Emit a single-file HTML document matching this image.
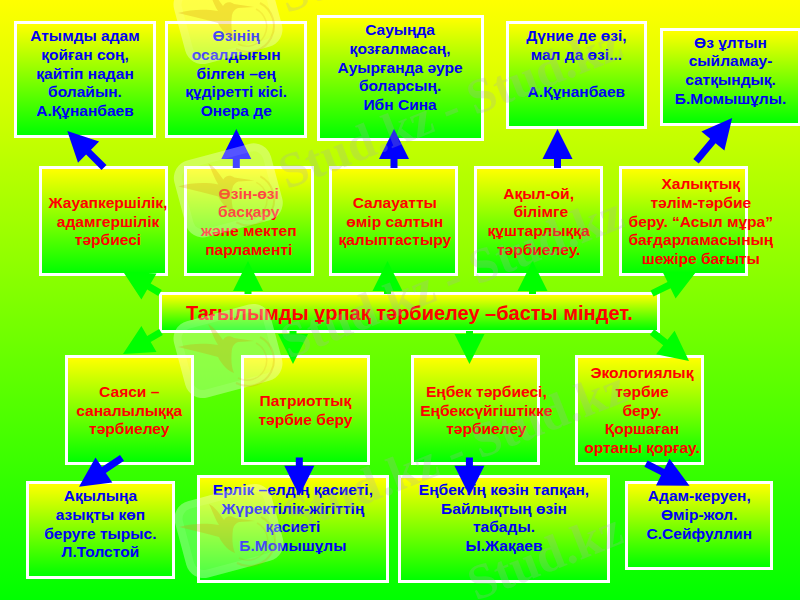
<!DOCTYPE html>
<html><head><meta charset="utf-8"><title>Тағылымды ұрпақ тәрбиелеу</title>
<style>
html,body{margin:0;padding:0}
body{width:800px;height:600px;overflow:hidden;position:relative;background:linear-gradient(to bottom,#ffff00 0%,#00ff00 100%);font-family:"Liberation Sans",sans-serif;font-weight:bold;font-size:15.56px;line-height:18.67px}
.bx{position:absolute;box-sizing:border-box;border:3.3px solid #fff;padding:3.3px 6.4px 1.7px;background:linear-gradient(to bottom,#ffff00 0%,#00ff00 100%);display:flex;align-items:center;justify-content:safe center;text-align:center;white-space:nowrap}
.b{color:#0000f4;align-items:flex-start}
.r{color:#ff0000}
.t{position:relative}
#title{position:absolute;left:158.8px;top:292px;width:501.2px;height:41.3px;box-sizing:border-box;border:3.3px solid #fff;background:linear-gradient(to bottom,#ffff00,#00ff00);font-size:20px;line-height:24px;color:#ff0000;display:flex;align-items:center;justify-content:center;white-space:nowrap}
svg{position:absolute;left:0;top:0}
</style></head><body>
<div class="bx b" id="b0" style="left:14px;top:21px;width:142px;height:117px"><div class="t">Атымды адам<br>қойған соң,<br>қайтіп надан<br>болайын.<br>А.Құнанбаев</div></div>
<div class="bx b" id="b1" style="left:165.2px;top:21px;width:142.1px;height:117px"><div class="t">Өзінің<br>осалдығын<br>білген –ең<br>құдіретті кісі.<br>Онера де</div></div>
<div class="bx b" id="b2" style="left:316.5px;top:15px;width:167.2px;height:126.2px"><div class="t">Сауыңда<br>қозғалмасаң,<br>Ауырғанда әуре<br>боларсың.<br>Ибн Сина</div></div>
<div class="bx b" id="b3" style="left:505.5px;top:21px;width:141.8px;height:107.8px"><div class="t">Дүние де өзі,<br>мал да өзі...<br>&nbsp;<br>А.Құнанбаев</div></div>
<div class="bx b" id="b4" style="left:659.8px;top:27.5px;width:141.5px;height:98.3px"><div class="t">Өз ұлтын<br>сыйламау-<br>сатқындық.<br>Б.Момышұлы.</div></div>
<div class="bx r" id="b5" style="left:39.2px;top:166px;width:129.3px;height:110.2px"><div class="t">Жауапкершілік,<br>адамгершілік<br>тәрбиесі</div></div>
<div class="bx r" id="b6" style="left:184px;top:166px;width:129.5px;height:110.2px"><div class="t">Өзін-өзі<br>басқару<br>және мектеп<br>парламенті</div></div>
<div class="bx r" id="b7" style="left:329px;top:166px;width:129.2px;height:110.2px"><div class="t">Салауатты<br>өмір салтын<br>қалыптастыру</div></div>
<div class="bx r" id="b8" style="left:474px;top:166px;width:129.2px;height:110.2px"><div class="t">Ақыл-ой,<br>&nbsp;білімге<br>құштарлыққа<br>тәрбиелеу.</div></div>
<div class="bx r" id="b9" style="left:619px;top:166px;width:129.4px;height:110.2px"><div class="t">Халықтық<br>тәлім-тәрбие<br>беру. “Асыл мұра”<br>бағдарламасының<br>шежіре бағыты</div></div>
<div class="bx r" id="b10" style="left:64.5px;top:355.2px;width:129.5px;height:110.1px"><div class="t">Саяси –<br>саналылыққа<br>тәрбиелеу</div></div>
<div class="bx r" id="b11" style="left:240.7px;top:355.2px;width:129.5px;height:110.1px"><div class="t">Патриоттық<br>тәрбие беру</div></div>
<div class="bx r" id="b12" style="left:410.8px;top:355.2px;width:129.5px;height:110.1px"><div class="t">Еңбек тәрбиесі,<br>Еңбексүйгіштікке<br>тәрбиелеу</div></div>
<div class="bx r" id="b13" style="left:574.8px;top:355.2px;width:129.3px;height:110.1px"><div class="t">Экологиялық<br>тәрбие<br>беру.<br>Қоршаған<br>ортаны қорғау.</div></div>
<div class="bx b" id="b14" style="left:26px;top:481px;width:148.8px;height:98.2px"><div class="t">Ақылыңа<br>азықты көп<br>беруге тырыс.<br>Л.Толстой</div></div>
<div class="bx b" id="b15" style="left:196.8px;top:474.8px;width:192.2px;height:107.9px"><div class="t">Ерлік –елдің қасиеті,<br>Жүректілік-жігіттің<br>қасиеті<br>Б.Момышұлы</div></div>
<div class="bx b" id="b16" style="left:398.3px;top:474.8px;width:211.4px;height:108px"><div class="t">Еңбектің көзін тапқан,<br>Байлықтың өзін<br>табады.<br>Ы.Жақаев</div></div>
<div class="bx b" id="b17" style="left:625.2px;top:481px;width:148.2px;height:89px"><div class="t">Адам-керуен,<br>Өмір-жол.<br>С.Сейфуллин</div></div>
<div id="title"><div class="t">Тағылымды ұрпақ тәрбиелеу –басты міндет.</div></div>
<svg width="800" height="600" viewBox="0 0 800 600">
<polygon fill="#0000ff" points="106.5,165.0 91.0,149.7 99.1,141.5 67.3,131.0 78.0,162.8 86.1,154.6 101.5,170.0"/>
<polygon fill="#0000ff" points="239.8,168.0 239.8,159.0 251.3,159.0 236.3,129.0 221.3,159.0 232.8,159.0 232.8,168.0"/>
<polygon fill="#0000ff" points="397.5,168.0 397.5,159.0 409.0,159.0 394.0,129.0 379.0,159.0 390.5,159.0 390.5,168.0"/>
<polygon fill="#0000ff" points="561.0,168.0 561.0,159.0 572.5,159.0 557.5,129.0 542.5,159.0 554.0,159.0 554.0,168.0"/>
<polygon fill="#0000ff" points="698.7,163.4 715.6,143.2 724.4,150.6 732.2,118.0 701.4,131.4 710.2,138.7 693.3,159.0"/>
<polygon fill="#00ff00" points="161.8,290.0 150.7,283.5 156.5,273.6 123.0,271.5 141.4,299.5 147.2,289.6 158.2,296.0"/>
<polygon fill="#00ff00" points="251.5,294.0 251.5,291.0 263.0,291.0 248.0,261.0 233.0,291.0 244.5,291.0 244.5,294.0"/>
<polygon fill="#00ff00" points="391.0,294.0 391.0,291.0 402.5,291.0 387.5,261.0 372.5,291.0 384.0,291.0 384.0,294.0"/>
<polygon fill="#00ff00" points="536.0,294.0 536.0,291.0 547.5,291.0 532.5,261.0 517.5,291.0 529.0,291.0 529.0,294.0"/>
<polygon fill="#00ff00" points="653.5,296.6 670.6,288.3 675.6,298.6 696.0,272.0 662.5,271.7 667.5,282.0 650.5,290.4"/>
<polygon fill="#00ff00" points="159.2,329.0 147.2,335.9 141.4,326.0 123.0,354.0 156.5,352.0 150.7,342.0 162.8,335.0"/>
<polygon fill="#00ff00" points="289.5,331.0 289.5,334.0 278.0,334.0 293.0,364.0 308.0,334.0 296.5,334.0 296.5,331.0"/>
<polygon fill="#00ff00" points="466.0,331.0 466.0,334.0 454.5,334.0 469.5,364.0 484.5,334.0 473.0,334.0 473.0,331.0"/>
<polygon fill="#00ff00" points="649.8,334.8 663.2,345.2 656.1,354.3 689.0,361.0 674.6,330.7 667.5,339.7 654.2,329.2"/>
<polygon fill="#0000ff" points="120.0,454.9 101.9,467.1 95.5,457.6 79.0,486.8 112.3,482.5 105.8,472.9 124.0,460.7"/>
<polygon fill="#0000ff" points="295.8,457.5 295.8,465.7 284.3,465.7 299.3,495.7 314.3,465.7 302.8,465.7 302.8,457.5"/>
<polygon fill="#0000ff" points="465.9,457.5 465.9,465.7 454.4,465.7 469.4,495.7 484.4,465.7 472.9,465.7 472.9,457.5"/>
<polygon fill="#0000ff" points="644.4,466.8 661.1,475.3 656.0,485.5 689.5,485.7 669.5,458.8 664.3,469.0 647.6,460.6"/>
<g id="wm">
<g transform="translate(228,17) rotate(-15)">
<rect x="-50" y="-39.5" width="100" height="79" rx="18" fill="#fff" fill-opacity="0.27"/>
<rect x="-46" y="-35.5" width="92" height="71" rx="14" fill="none" stroke="#fff" stroke-opacity="0.09" stroke-width="8"/>
<g transform="rotate(15) translate(-2,0)">
<path fill="#d89000" fill-opacity="0.26" d="M28,-10 L8,-13 C4,-16 -1,-15 -3,-11 C-8,-18 -12,-24 -18,-27 C-14,-19 -12,-12 -8,-6 C-20,-8 -34,-8 -48,-4 C-34,-1 -20,3 -8,6 C-4,14 2,20 8,22 C5,15 5,6 6,-2 C7,-6 9,-8 12,-9 Z"/>
<path fill="none" stroke="#d89000" stroke-opacity="0.2" stroke-width="2" d="M10,32 A24,24 0 0 0 34,-14"/>
<path fill="none" stroke="#d89000" stroke-opacity="0.15" stroke-width="1.5" d="M12,27 A19,19 0 0 0 30,-8"/>
</g></g>
<g transform="translate(228.3,190.4) rotate(-15)">
<rect x="-50" y="-39.5" width="100" height="79" rx="18" fill="#fff" fill-opacity="0.27"/>
<rect x="-46" y="-35.5" width="92" height="71" rx="14" fill="none" stroke="#fff" stroke-opacity="0.09" stroke-width="8"/>
<g transform="rotate(15) translate(-2,0)">
<path fill="#d89000" fill-opacity="0.26" d="M28,-10 L8,-13 C4,-16 -1,-15 -3,-11 C-8,-18 -12,-24 -18,-27 C-14,-19 -12,-12 -8,-6 C-20,-8 -34,-8 -48,-4 C-34,-1 -20,3 -8,6 C-4,14 2,20 8,22 C5,15 5,6 6,-2 C7,-6 9,-8 12,-9 Z"/>
<path fill="none" stroke="#d89000" stroke-opacity="0.2" stroke-width="2" d="M10,32 A24,24 0 0 0 34,-14"/>
<path fill="none" stroke="#d89000" stroke-opacity="0.15" stroke-width="1.5" d="M12,27 A19,19 0 0 0 30,-8"/>
</g></g>
<g transform="translate(228,351) rotate(-15)">
<rect x="-50" y="-39.5" width="100" height="79" rx="18" fill="#fff" fill-opacity="0.27"/>
<rect x="-46" y="-35.5" width="92" height="71" rx="14" fill="none" stroke="#fff" stroke-opacity="0.09" stroke-width="8"/>
<g transform="rotate(15) translate(-2,0)">
<path fill="#d89000" fill-opacity="0.26" d="M28,-10 L8,-13 C4,-16 -1,-15 -3,-11 C-8,-18 -12,-24 -18,-27 C-14,-19 -12,-12 -8,-6 C-20,-8 -34,-8 -48,-4 C-34,-1 -20,3 -8,6 C-4,14 2,20 8,22 C5,15 5,6 6,-2 C7,-6 9,-8 12,-9 Z"/>
<path fill="none" stroke="#d89000" stroke-opacity="0.2" stroke-width="2" d="M10,32 A24,24 0 0 0 34,-14"/>
<path fill="none" stroke="#d89000" stroke-opacity="0.15" stroke-width="1.5" d="M12,27 A19,19 0 0 0 30,-8"/>
</g></g>
<g transform="translate(229,531) rotate(-15)">
<rect x="-50" y="-39.5" width="100" height="79" rx="18" fill="#fff" fill-opacity="0.27"/>
<rect x="-46" y="-35.5" width="92" height="71" rx="14" fill="none" stroke="#fff" stroke-opacity="0.09" stroke-width="8"/>
<g transform="rotate(15) translate(-2,0)">
<path fill="#d89000" fill-opacity="0.26" d="M28,-10 L8,-13 C4,-16 -1,-15 -3,-11 C-8,-18 -12,-24 -18,-27 C-14,-19 -12,-12 -8,-6 C-20,-8 -34,-8 -48,-4 C-34,-1 -20,3 -8,6 C-4,14 2,20 8,22 C5,15 5,6 6,-2 C7,-6 9,-8 12,-9 Z"/>
<path fill="none" stroke="#d89000" stroke-opacity="0.2" stroke-width="2" d="M10,32 A24,24 0 0 0 34,-14"/>
<path fill="none" stroke="#d89000" stroke-opacity="0.15" stroke-width="1.5" d="M12,27 A19,19 0 0 0 30,-8"/>
</g></g>
<text transform="translate(287,13.6) rotate(-21.5)" font-family="Liberation Serif,serif" font-weight="bold" font-size="49.5" fill="#aaaaaa" fill-opacity="0.25">Stud.kz - Stud.kz</text>
<text transform="translate(287,189.6) rotate(-21.5)" font-family="Liberation Serif,serif" font-weight="bold" font-size="49.5" fill="#aaaaaa" fill-opacity="0.25">Stud.kz - Stud.kz</text>
<text transform="translate(289,359) rotate(-21.5)" font-family="Liberation Serif,serif" font-weight="bold" font-size="49.5" fill="#aaaaaa" fill-opacity="0.25">Stud.kz - Stud.kz</text>
<text transform="translate(292,533) rotate(-21.5)" font-family="Liberation Serif,serif" font-weight="bold" font-size="49.5" fill="#aaaaaa" fill-opacity="0.25">Stud.kz - Stud.kz</text>
<text transform="translate(476,601) rotate(-21.5)" font-family="Liberation Serif,serif" font-weight="bold" font-size="49.5" fill="#aaaaaa" fill-opacity="0.25">Stud.kz</text>
</g>
</svg>
</body></html>
